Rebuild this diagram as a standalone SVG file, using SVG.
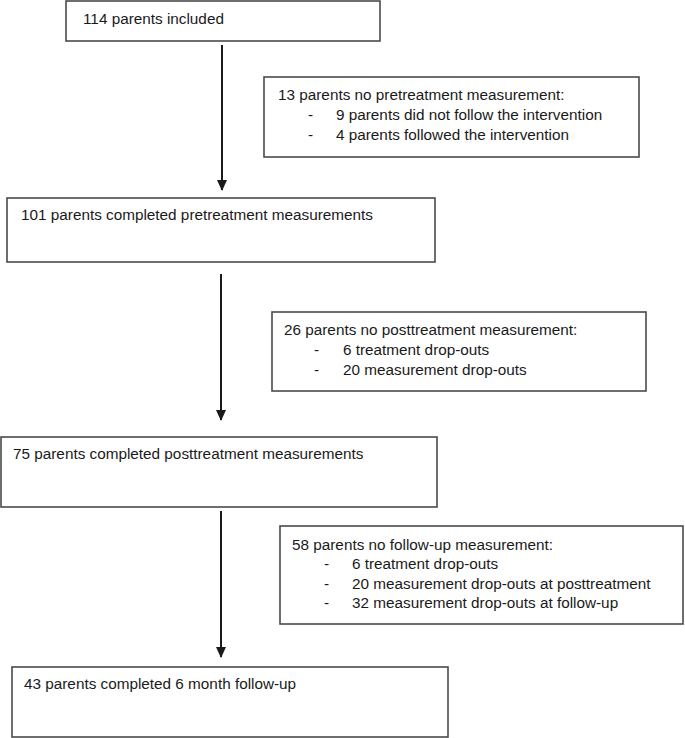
<svg xmlns="http://www.w3.org/2000/svg" width="685" height="738" viewBox="0 0 685 738">
<style>
.box{fill:#fff;stroke:#4a4a4a;stroke-width:1.6}
.t{font-family:"Liberation Sans",Arial,sans-serif;font-size:15.3px;fill:#1a1a1a}
.c{stroke:#1a1a1a;stroke-width:2;fill:none;marker-end:url(#ah)}
</style>
<defs>
<marker id="ah" markerWidth="11" markerHeight="10" refX="10" refY="5" orient="auto" markerUnits="userSpaceOnUse" viewBox="0 0 11 10">
<path d="M0,0 L11,5 L0,10 Z" fill="#1a1a1a"/>
</marker>
</defs>
<rect width="685" height="738" fill="#fff"/>
<g id="connectors">
<line class="c" x1="222" y1="45" x2="222" y2="190"/>
<line class="c" x1="221" y1="274" x2="221" y2="420"/>
<line class="c" x1="221" y1="511" x2="221" y2="657"/>
</g>
<g id="n114">
<rect class="box" x="66" y="1" width="314" height="40"/>
<text class="t" x="83" y="24">114 parents included</text>
</g>
<g id="n13">
<rect class="box" x="264" y="77" width="375" height="80"/>
<text class="t" x="278" y="100">13 parents no pretreatment measurement:</text>
<text class="t" x="308" y="120">-</text>
<text class="t" x="336" y="120">9 parents did not follow the intervention</text>
<text class="t" x="308" y="140">-</text>
<text class="t" x="336" y="140">4 parents followed the intervention</text>
</g>
<g id="n101">
<rect class="box" x="7" y="198" width="428" height="64"/>
<text class="t" x="21" y="220">101 parents completed pretreatment measurements</text>
</g>
<g id="n26">
<rect class="box" x="272" y="312" width="374" height="79"/>
<text class="t" x="284" y="335">26 parents no posttreatment measurement:</text>
<text class="t" x="314" y="355">-</text>
<text class="t" x="343" y="355">6 treatment drop-outs</text>
<text class="t" x="314" y="375">-</text>
<text class="t" x="343" y="375">20 measurement drop-outs</text>
</g>
<g id="n75">
<rect class="box" x="1" y="437" width="436" height="70"/>
<text class="t" x="13" y="459">75 parents completed posttreatment measurements</text>
</g>
<g id="n58">
<rect class="box" x="280" y="526" width="403" height="98"/>
<text class="t" x="292" y="550">58 parents no follow-up measurement:</text>
<text class="t" x="324" y="569">-</text>
<text class="t" x="352" y="569">6 treatment drop-outs</text>
<text class="t" x="324" y="589">-</text>
<text class="t" x="352" y="589">20 measurement drop-outs at posttreatment</text>
<text class="t" x="324" y="608">-</text>
<text class="t" x="352" y="608">32 measurement drop-outs at follow-up</text>
</g>
<g id="n43">
<rect class="box" x="12" y="667" width="436" height="70"/>
<text class="t" x="24" y="689">43 parents completed 6 month follow-up</text>
</g>
</svg>
